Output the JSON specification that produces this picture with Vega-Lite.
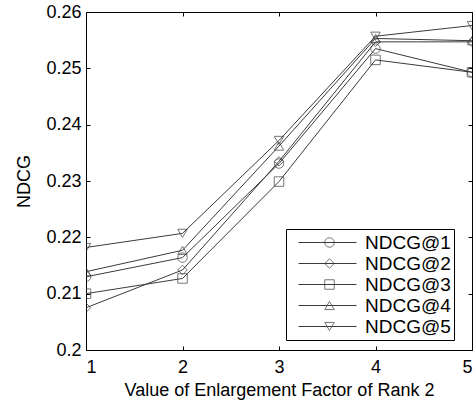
{
  "$schema": "https://vega.github.io/schema/vega-lite/v6.json",
  "width": 386,
  "height": 338,
  "autosize": {"type": "none"},
  "padding": {"left": 86, "top": 12, "right": 3, "bottom": 50},
  "background": "white",
  "config": {
    "view": {"stroke": "#000", "strokeWidth": 1},
    "font": "Liberation Sans",
    "axis": {
      "grid": false,
      "domainColor": "#000",
      "domainWidth": 1,
      "tickColor": "#000",
      "tickSize": -4,
      "tickWidth": 1,
      "labelColor": "#000",
      "labelFont": "Liberation Sans",
      "labelFontSize": 18,
      "titleFont": "Liberation Sans",
      "titleFontSize": 18,
      "titleFontWeight": "normal",
      "titleColor": "#000"
    }
  },
  "data": {
    "values": [
      {"factor": 1, "series": "NDCG@1", "ndcg": 0.2130},
      {"factor": 2, "series": "NDCG@1", "ndcg": 0.2164},
      {"factor": 3, "series": "NDCG@1", "ndcg": 0.2331},
      {"factor": 4, "series": "NDCG@1", "ndcg": 0.2535},
      {"factor": 5, "series": "NDCG@1", "ndcg": 0.2493},
      {"factor": 1, "series": "NDCG@2", "ndcg": 0.2075},
      {"factor": 2, "series": "NDCG@2", "ndcg": 0.2142},
      {"factor": 3, "series": "NDCG@2", "ndcg": 0.2335},
      {"factor": 4, "series": "NDCG@2", "ndcg": 0.2547},
      {"factor": 5, "series": "NDCG@2", "ndcg": 0.2547},
      {"factor": 1, "series": "NDCG@3", "ndcg": 0.2100},
      {"factor": 2, "series": "NDCG@3", "ndcg": 0.2127},
      {"factor": 3, "series": "NDCG@3", "ndcg": 0.2299},
      {"factor": 4, "series": "NDCG@3", "ndcg": 0.2515},
      {"factor": 5, "series": "NDCG@3", "ndcg": 0.2493},
      {"factor": 1, "series": "NDCG@4", "ndcg": 0.2139},
      {"factor": 2, "series": "NDCG@4", "ndcg": 0.2177},
      {"factor": 3, "series": "NDCG@4", "ndcg": 0.2362},
      {"factor": 4, "series": "NDCG@4", "ndcg": 0.2553},
      {"factor": 5, "series": "NDCG@4", "ndcg": 0.2549},
      {"factor": 1, "series": "NDCG@5", "ndcg": 0.2182},
      {"factor": 2, "series": "NDCG@5", "ndcg": 0.2207},
      {"factor": 3, "series": "NDCG@5", "ndcg": 0.2372},
      {"factor": 4, "series": "NDCG@5", "ndcg": 0.2557},
      {"factor": 5, "series": "NDCG@5", "ndcg": 0.2576}
    ]
  },
  "layer": [
    {
      "mark": {"type": "line", "strokeWidth": 1, "clip": true},
      "encoding": {
        "x": {"field": "factor", "type": "quantitative",
              "scale": {"domain": [1, 5], "nice": false, "zero": false},
              "axis": {"orient": "bottom", "values": [1, 2, 3, 4, 5], "title": "Value of Enlargement Factor of Rank 2", "labelPadding": 12, "titlePadding": 5, "domain": false}},
        "y": {"field": "ndcg", "type": "quantitative",
              "scale": {"domain": [0.2, 0.26], "nice": false, "zero": false},
              "axis": {"orient": "left", "values": [0.2, 0.21, 0.22, 0.23, 0.24, 0.25, 0.26], "format": ".2~f", "title": "NDCG", "labelPadding": 9, "titlePadding": 12, "domain": false}},
        "color": {"field": "series", "type": "nominal",
                  "scale": {"domain": ["NDCG@1", "NDCG@2", "NDCG@3", "NDCG@4", "NDCG@5"], "range": ["#3a3a3a", "#3a3a3a", "#3a3a3a", "#3a3a3a", "#3a3a3a"]},
                  "legend": {"orient": "none", "legendX": 200, "legendY": 217, "title": null,
                             "symbolType": "stroke", "symbolSize": 3364, "symbolStrokeWidth": 1,
                             "symbolOffset": 9, "labelOffset": 8, "labelFontSize": 19, "labelFont": "Liberation Sans", "labelColor": "#000",
                             "clipHeight": 21, "rowPadding": 0, "padding": 3,
                             "strokeColor": "#000", "fillColor": "white"}}
      }
    },
    {
      "mark": {"type": "point", "filled": false, "size": 90, "strokeWidth": 1, "color": "#3a3a3a", "clip": true},
      "encoding": {
        "x": {"field": "factor", "type": "quantitative",
              "axis": {"orient": "top", "values": [1, 2, 3, 4, 5], "labels": false, "title": null, "domain": false}},
        "y": {"field": "ndcg", "type": "quantitative",
              "axis": {"orient": "right", "values": [0.2, 0.21, 0.22, 0.23, 0.24, 0.25, 0.26], "labels": false, "title": null, "domain": false}},
        "shape": {"field": "series", "type": "nominal",
                  "scale": {"range": ["circle", "diamond", "square", "triangle-up", "triangle-down"]},
                  "legend": {"orient": "none", "legendX": 200, "legendY": 217, "title": null,
                             "symbolSize": 90, "symbolStrokeColor": "#3a3a3a", "symbolStrokeWidth": 1, "symbolFillColor": "transparent",
                             "symbolOffset": 35, "labelExpr": "''", "labelFontSize": 1,
                             "clipHeight": 21, "rowPadding": 0, "padding": 3}}
      }
    }
  ],
  "resolve": {"axis": {"x": "independent", "y": "independent"}}
}
